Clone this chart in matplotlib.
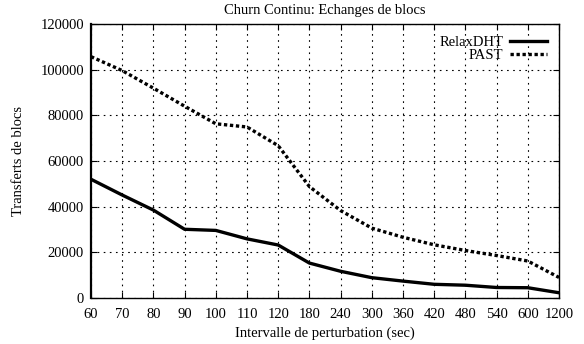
import matplotlib
matplotlib.use("Agg")
import matplotlib.pyplot as plt

categories = ["60", "70", "80", "90", "100", "110", "120", "180", "240",
              "300", "360", "420", "480", "540", "600", "1200"]
relaxdht = [52000, 45100, 38500, 30100, 29600, 25900, 23200, 15300, 11700,
            8900, 7400, 6000, 5600, 4600, 4500, 2300]
past = [105700, 99600, 91900, 84000, 76300, 74900, 66700, 48800, 38300,
        30600, 26600, 23300, 20800, 18600, 16200, 9000]
yticks = [0, 20000, 40000, 60000, 80000, 100000, 120000]

plt.rcParams['font.family'] = ['Liberation Serif', 'DejaVu Serif']
fs = 10.5

fig = plt.figure(figsize=(5.84, 3.44), dpi=100)
ax = fig.add_axes([91/584, 46/344, (559-91)/584, (298-24)/344])

x = list(range(len(categories)))
ax.plot(x, relaxdht, color='black', lw=2.4, solid_joinstyle='miter', label='RelaxDHT')
ax.plot(x, past, color='black', lw=2.4, linestyle=(0, (1.0, 0.8)), label='PAST')

ax.set_xlim(0, len(categories) - 1)
ax.set_ylim(0, 120000)
ax.set_xticks(x)
ax.set_xticklabels(categories)
ax.set_yticks(yticks)
ax.set_yticklabels([str(v) for v in yticks])
ax.tick_params(direction='in', top=True, right=True, length=4, width=0.8,
               labelsize=fs)
ax.tick_params(axis='x', pad=7)
ax.tick_params(axis='y', pad=5)
ax.grid(True, color='black', linestyle=(0, (1.5, 4)), lw=0.8)
for s in ax.spines.values():
    s.set_linewidth(1.0)
ax.spines['left'].set_linewidth(1.6)

ax.set_title('Churn Continu: Echanges de blocs', fontsize=fs, pad=7)
ax.set_xlabel('Intervalle de perturbation (sec)', fontsize=fs, labelpad=4)
ax.set_ylabel('Transferts de blocs', fontsize=fs, labelpad=11)

leg = ax.legend(loc='upper right', frameon=False, markerfirst=False, fontsize=fs,
                handlelength=2.55, handletextpad=0.45, labelspacing=0.0,
                borderaxespad=0.5, borderpad=0.3)
for t in leg.get_texts():
    t.set_ha('right')

fig.savefig('out.png', dpi=100)
